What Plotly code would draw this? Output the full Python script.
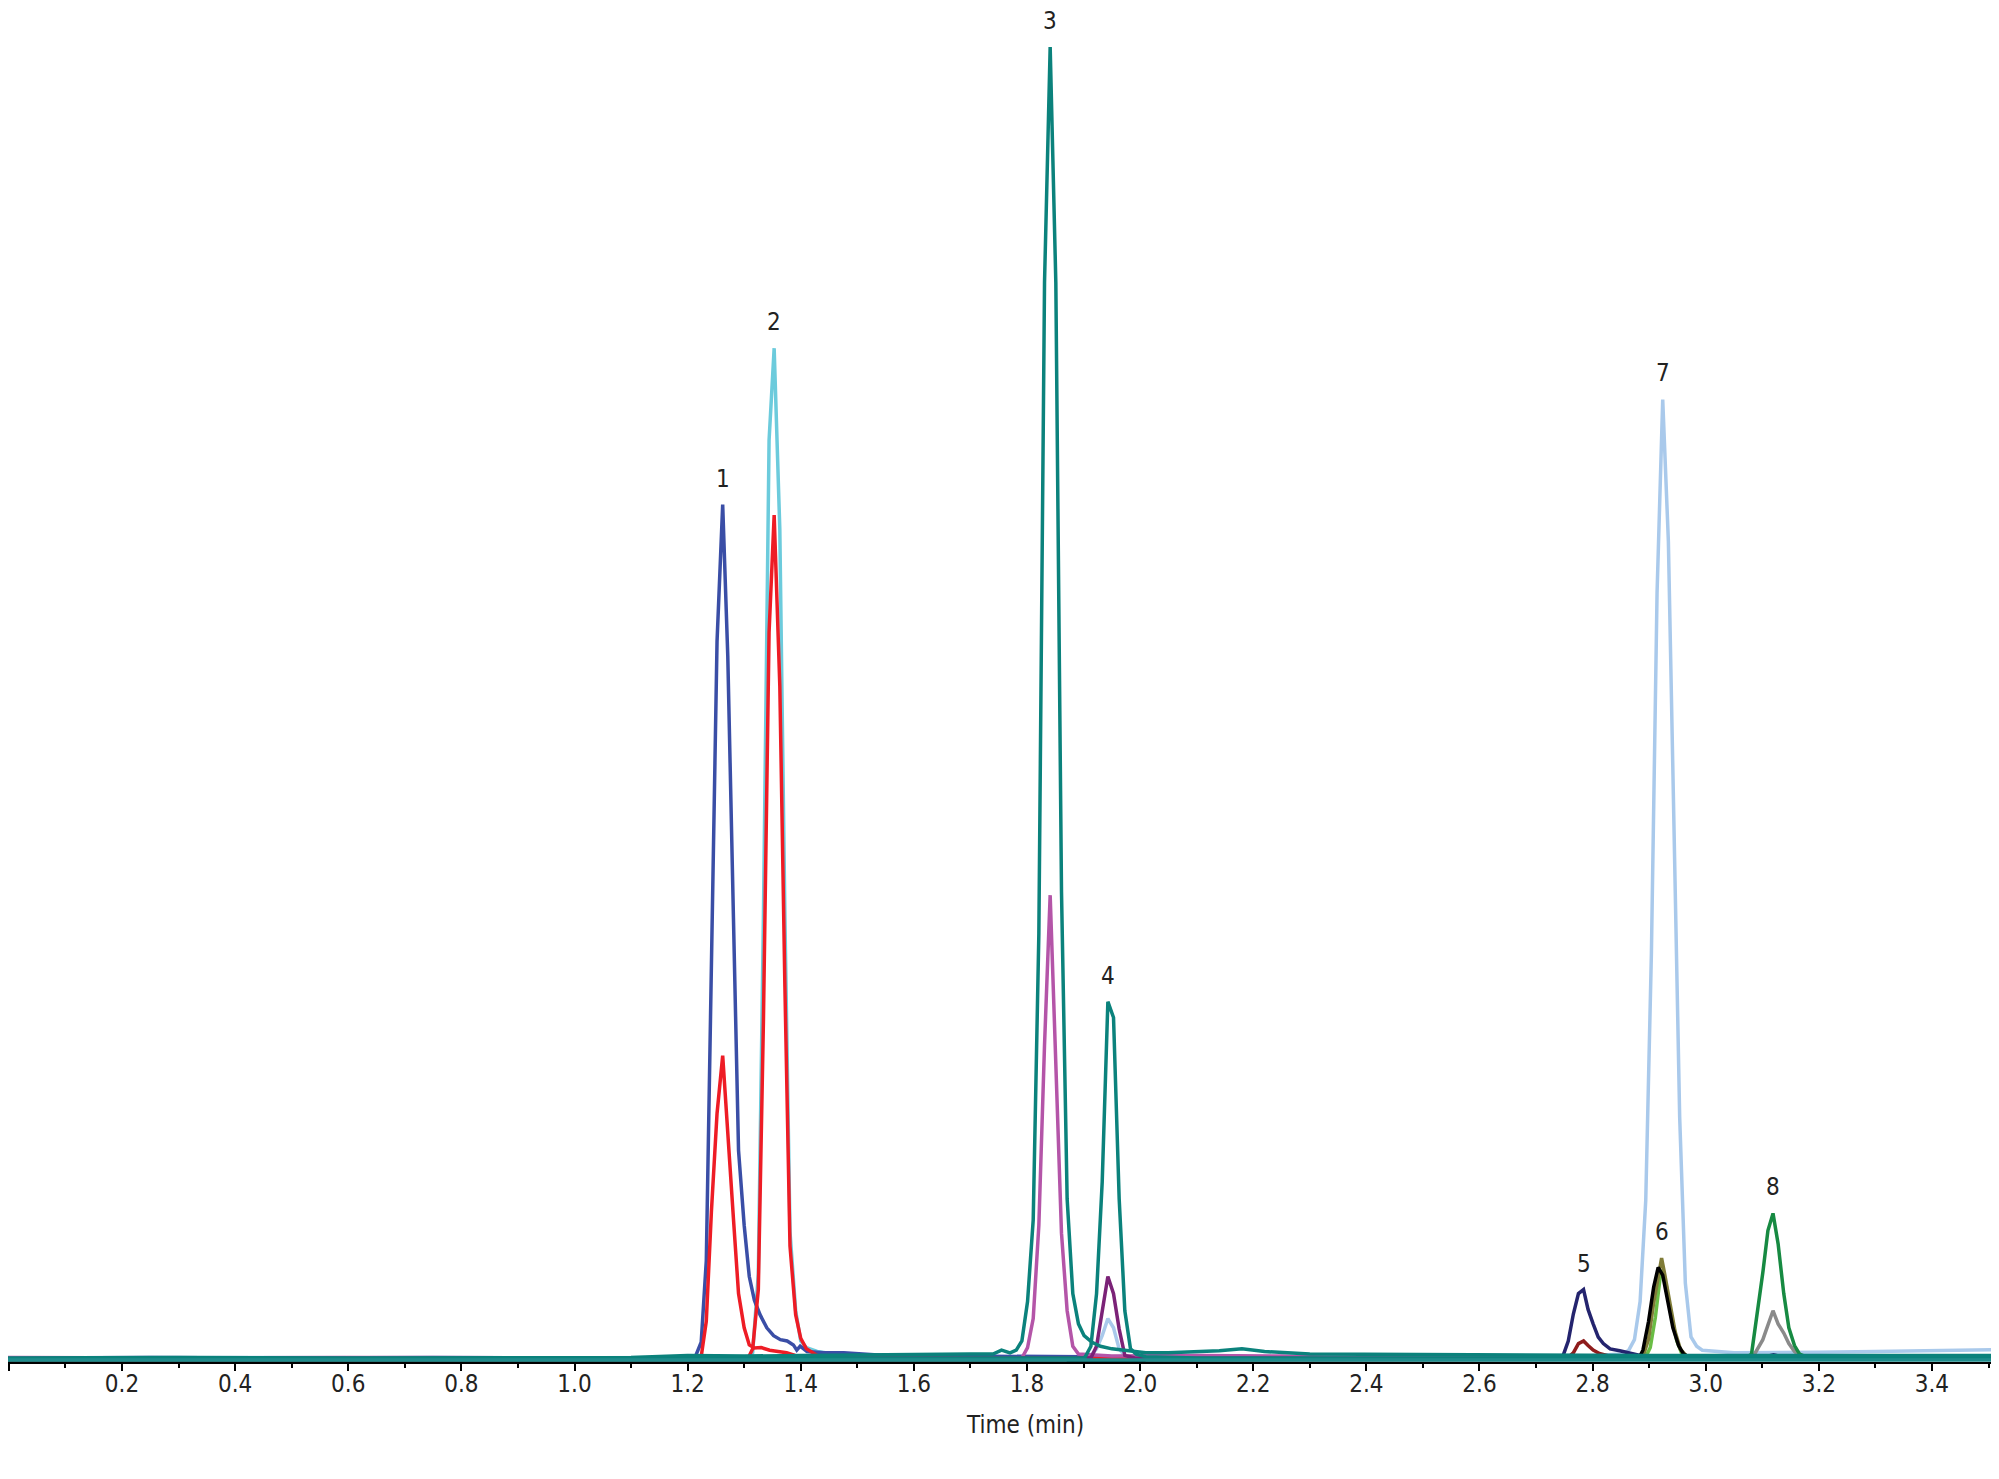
import plotly.graph_objects as go

# ---------------- data: time (min) / intensity (% of largest peak) ----------------
blue_t = [-0.02, 0.25, 0.50, 0.75, 1.00, 1.15, 1.205, 1.214, 1.224, 1.233, 1.242, 1.252, 1.262, 1.271, 1.281, 1.290, 1.300, 1.309, 1.318, 1.328, 1.340, 1.352, 1.364, 1.376, 1.387, 1.393, 1.399, 1.411, 1.440, 1.476, 1.55, 1.80, 2.20, 2.60, 3.00, 3.55]
blue_v = [0.30, 0.35, 0.30, 0.35, 0.30, 0.35, 0.35, 0.45, 1.5, 7.7, 31.0, 54.8, 65.2, 53.7, 33.8, 16.1, 10.4, 6.5, 4.7, 3.6, 2.6, 2.0, 1.7, 1.6, 1.3, 0.9, 1.2, 0.8, 0.7, 0.7, 0.5, 0.4, 0.3, 0.3, 0.3, 0.3]

redA_t = [-0.02, 0.30, 0.60, 0.90, 1.10, 1.205, 1.224, 1.233, 1.242, 1.252, 1.262, 1.271, 1.281, 1.290, 1.300, 1.309, 1.318, 1.330, 1.345, 1.360, 1.375, 1.390, 1.420, 1.60, 2.00, 2.50, 3.00, 3.55]
redA_v = [0.25, 0.30, 0.25, 0.30, 0.25, 0.30, 0.40, 3.1, 11.4, 18.9, 23.3, 17.1, 10.9, 5.2, 2.6, 1.3, 1.06, 1.1, 0.9, 0.8, 0.7, 0.5, 0.35, 0.3, 0.25, 0.25, 0.25, 0.25]

redB_t = [-0.02, 0.50, 1.00, 1.296, 1.306, 1.315, 1.325, 1.334, 1.344, 1.353, 1.363, 1.372, 1.381, 1.391, 1.400, 1.410, 1.429, 1.452, 1.60, 2.20, 2.80, 3.55]
redB_v = [0.20, 0.20, 0.20, 0.20, 0.20, 1.0, 5.5, 25.9, 55.5, 64.4, 51.4, 28.5, 8.8, 3.6, 1.8, 1.0, 0.5, 0.3, 0.25, 0.2, 0.2, 0.2]

cyan_t = [-0.02, 0.40, 0.80, 1.20, 1.296, 1.306, 1.315, 1.325, 1.334, 1.344, 1.353, 1.363, 1.372, 1.381, 1.391, 1.400, 1.410, 1.429, 1.476, 1.60, 2.20, 2.80, 3.55]
cyan_v = [0.30, 0.30, 0.30, 0.30, 0.25, 0.25, 0.7, 6.7, 33.8, 70.1, 77.1, 63.3, 33.8, 9.9, 3.9, 1.6, 1.1, 0.8, 0.5, 0.35, 0.3, 0.3, 0.3]

tealA_t = [-0.02, 0.30, 0.60, 0.90, 1.10, 1.20, 1.30, 1.40, 1.50, 1.60, 1.70, 1.740, 1.755, 1.770, 1.781, 1.791, 1.801, 1.811, 1.821, 1.831, 1.841, 1.851, 1.861, 1.871, 1.881, 1.891, 1.901, 1.915, 1.930, 1.950, 1.970, 1.990, 2.010, 2.050, 2.100, 2.140, 2.180, 2.220, 2.300, 2.500, 2.700, 2.900, 3.100, 3.300, 3.55]
tealA_v = [0.30, 0.35, 0.30, 0.35, 0.35, 0.50, 0.45, 0.50, 0.55, 0.60, 0.60, 0.60, 0.90, 0.70, 0.90, 1.6, 4.6, 10.8, 32.6, 82.1, 100.0, 82.1, 35.8, 12.4, 5.2, 2.9, 2.0, 1.5, 1.2, 1.0, 0.9, 0.8, 0.7, 0.7, 0.75, 0.85, 1.0, 0.8, 0.6, 0.55, 0.5, 0.5, 0.5, 0.5, 0.5]

tealB_t = [-0.02, 0.50, 1.00, 1.50, 1.90, 1.903, 1.913, 1.923, 1.933, 1.943, 1.953, 1.963, 1.973, 1.983, 1.993, 2.010, 2.10, 2.50, 3.00, 3.55]
tealB_v = [0.25, 0.25, 0.25, 0.25, 0.30, 0.40, 1.2, 5.2, 13.7, 27.4, 26.2, 12.4, 3.9, 1.0, 0.6, 0.4, 0.3, 0.3, 0.3, 0.3]

mag_t = [-0.02, 0.30, 0.60, 0.90, 1.20, 1.50, 1.70, 1.791, 1.801, 1.811, 1.821, 1.831, 1.841, 1.851, 1.861, 1.871, 1.881, 1.891, 1.95, 2.10, 2.25, 2.40, 3.00, 3.55]
mag_v = [0.35, 0.30, 0.35, 0.30, 0.30, 0.30, 0.30, 0.30, 1.1, 3.3, 10.4, 24.1, 35.5, 22.8, 9.8, 3.9, 1.2, 0.6, 0.45, 0.5, 0.45, 0.3, 0.3, 0.3]

purple_t = [-0.02, 1.00, 1.90, 1.913, 1.923, 1.933, 1.943, 1.953, 1.963, 1.973, 1.990, 2.50, 3.55]
purple_v = [0.25, 0.25, 0.25, 0.30, 1.2, 3.9, 6.5, 5.2, 2.5, 0.5, 0.3, 0.25, 0.25]

lblue_t = [-0.02, 0.40, 0.80, 1.20, 1.60, 1.90, 1.913, 1.923, 1.933, 1.943, 1.953, 1.963, 1.973, 1.990, 2.20, 2.50, 2.80, 2.853, 2.864, 2.874, 2.884, 2.894, 2.904, 2.914, 2.924, 2.934, 2.944, 2.954, 2.964, 2.974, 2.984, 2.994, 3.05, 3.10, 3.20, 3.30, 3.40, 3.55]
lblue_v = [0.30, 0.35, 0.30, 0.35, 0.30, 0.30, 0.5, 1.0, 2.0, 3.3, 2.6, 1.0, 0.5, 0.3, 0.35, 0.4, 0.5, 0.6, 0.9, 1.7, 4.6, 12.3, 31.1, 58.5, 73.2, 62.4, 40.7, 18.6, 6.0, 1.9, 1.2, 0.9, 0.7, 0.7, 0.75, 0.8, 0.85, 0.95]

navy_t = [-0.02, 0.50, 1.00, 1.50, 2.00, 2.50, 2.739, 2.748, 2.757, 2.766, 2.775, 2.784, 2.792, 2.801, 2.810, 2.819, 2.831, 2.848, 2.866, 2.884, 2.907, 3.00, 3.10, 3.120, 3.140, 3.30, 3.55]
navy_v = [0.25, 0.25, 0.25, 0.25, 0.3, 0.3, 0.3, 0.5, 1.6, 3.65, 5.2, 5.5, 4.0, 2.9, 1.9, 1.4, 1.0, 0.85, 0.7, 0.5, 0.4, 0.35, 0.35, 0.55, 0.35, 0.3, 0.3]

dred_t = [-0.02, 1.00, 2.00, 2.74, 2.757, 2.766, 2.775, 2.784, 2.792, 2.801, 2.812, 2.830, 2.854, 2.870, 3.20, 3.55]
dred_v = [0.2, 0.2, 0.2, 0.25, 0.35, 0.7, 1.4, 1.6, 1.25, 0.9, 0.65, 0.45, 0.35, 0.3, 0.25, 0.25]

black_t = [-0.02, 1.00, 1.870, 1.880, 2.000, 2.010, 2.50, 2.870, 2.881, 2.889, 2.899, 2.908, 2.916, 2.924, 2.933, 2.942, 2.952, 2.961, 2.972, 2.990, 3.30, 3.55]
black_v = [0.15, 0.15, 0.15, 0.05, 0.05, 0.15, 0.15, 0.2, 0.2, 0.9, 3.1, 5.7, 7.2, 6.6, 4.7, 2.6, 1.25, 0.6, 0.35, 0.2, 0.2, 0.2]

olive_t = [-0.02, 1.00, 2.00, 2.880, 2.889, 2.899, 2.908, 2.918, 2.922, 2.927, 2.937, 2.946, 2.955, 2.965, 2.980, 3.30, 3.55]
olive_v = [0.2, 0.2, 0.2, 0.2, 0.4, 1.75, 4.5, 7.2, 7.9, 6.8, 4.4, 2.3, 1.0, 0.5, 0.25, 0.2, 0.2]

lgreen_t = [-0.02, 1.00, 2.00, 2.892, 2.902, 2.911, 2.921, 2.930, 2.939, 2.949, 2.958, 2.968, 2.990, 3.55]
lgreen_v = [0.2, 0.2, 0.2, 0.2, 1.1, 3.4, 7.0, 5.9, 3.5, 1.6, 0.6, 0.3, 0.2, 0.2]

green_t = [-0.02, 1.00, 2.00, 2.80, 3.070, 3.081, 3.091, 3.101, 3.110, 3.119, 3.128, 3.138, 3.147, 3.157, 3.166, 3.180, 3.40, 3.55]
green_v = [0.25, 0.25, 0.25, 0.3, 0.3, 0.6, 3.6, 6.8, 10.0, 11.3, 9.0, 5.2, 2.6, 1.25, 0.6, 0.35, 0.3, 0.3]

gray_t = [-0.02, 1.00, 2.00, 3.00, 3.085, 3.091, 3.101, 3.110, 3.119, 3.128, 3.138, 3.147, 3.157, 3.166, 3.180, 3.55]
gray_v = [0.25, 0.25, 0.25, 0.3, 0.5, 1.0, 1.7, 2.8, 3.9, 2.9, 2.2, 1.4, 0.8, 0.5, 0.3, 0.3]

base_t = [-0.02, 3.55]
base_v = [0.15, 0.15]

tick_vals = [0.0, 0.2, 0.4, 0.6, 0.8, 1.0, 1.2, 1.4, 1.6, 1.8, 2.0, 2.2, 2.4, 2.6, 2.8, 3.0, 3.2, 3.4]
tick_text = ["", "0.2", "0.4", "0.6", "0.8", "1.0", "1.2", "1.4", "1.6", "1.8", "2.0", "2.2", "2.4", "2.6", "2.8", "3.0", "3.2", "3.4"]

x_title = "Time (min)"
peak_labels = ["1", "2", "3", "4", "5", "6", "7", "8"]
peak_traces = ["blue", "cyan", "tealA", "tealB", "navy", "olive", "lblue", "green"]

# ---------------- traces (drawing order: bottom -> top) ----------------
series = {
    "lblue": (lblue_t, lblue_v, "#a9c9eb"),
    "gray": (gray_t, gray_v, "#8a8a8a"),
    "green": (green_t, green_v, "#178a42"),
    "navy": (navy_t, navy_v, "#24246e"),
    "dred": (dred_t, dred_v, "#8e1c1c"),
    "lgreen": (lgreen_t, lgreen_v, "#6abd45"),
    "olive": (olive_t, olive_v, "#807c38"),
    "black": (black_t, black_v, "#000000"),
    "cyan": (cyan_t, cyan_v, "#6ccbdc"),
    "blue": (blue_t, blue_v, "#3a4ea6"),
    "redA": (redA_t, redA_v, "#ee1c25"),
    "redB": (redB_t, redB_v, "#ee1c25"),
    "mag": (mag_t, mag_v, "#b455a8"),
    "purple": (purple_t, purple_v, "#7b2277"),
    "tealB": (tealB_t, tealB_v, "#0b827c"),
    "tealA": (tealA_t, tealA_v, "#0b827c"),
    "base": (base_t, base_v, "#1f8c8c"),
}

FONT = "DejaVu Sans Condensed, Liberation Sans Narrow, DejaVu Sans, sans-serif"
TXT = "#222222"

fig = go.Figure()
for name, (t, v, col) in series.items():
    assert len(t) == len(v), name
    fig.add_trace(go.Scatter(x=t, y=v, mode="lines", name=name,
                             line=dict(color=col, width=3.5), hoverinfo="skip"))

for lab, key in zip(peak_labels, peak_traces):
    t, v, _ = series[key]
    i = max(range(len(v)), key=lambda k: v[k])
    fig.add_annotation(x=t[i], y=v[i], text=lab, showarrow=False,
                       yanchor="bottom", xanchor="center", yshift=12, borderpad=0,
                       height=26, valign="middle",
                       font=dict(family=FONT, size=24, color=TXT))

fig.add_annotation(xref="paper", yref="paper", x=0.509, y=0, text=x_title,
                   showarrow=False, xanchor="center", yanchor="middle", yshift=-63,
                   font=dict(family=FONT, size=24, color=TXT))

fig.update_layout(
    width=1999, height=1479,
    margin=dict(l=0, r=0, t=0, b=125, pad=0),
    paper_bgcolor="white", plot_bgcolor="white",
    showlegend=False,
    font=dict(family=FONT, size=24, color=TXT),
    xaxis=dict(
        range=[-0.0016, 3.5327],
        showgrid=False, zeroline=False,
        showline=True, linecolor="#000000", linewidth=1.5,
        ticks="outside", ticklen=7, tickwidth=1.5, tickcolor="#000000",
        tickmode="array", tickvals=tick_vals, ticktext=tick_text,
        ticklabelstandoff=-8,
        tickfont=dict(family=FONT, size=24, color=TXT),
        minor=dict(ticks="outside", ticklen=4, tickwidth=1.5, tickcolor="#000000",
                   tickmode="linear", tick0=0.1, dtick=0.2, showgrid=False),
    ),
    yaxis=dict(range=[0, 102.97], visible=False, showgrid=False, zeroline=False),
)

fig.write_html("out.html")
